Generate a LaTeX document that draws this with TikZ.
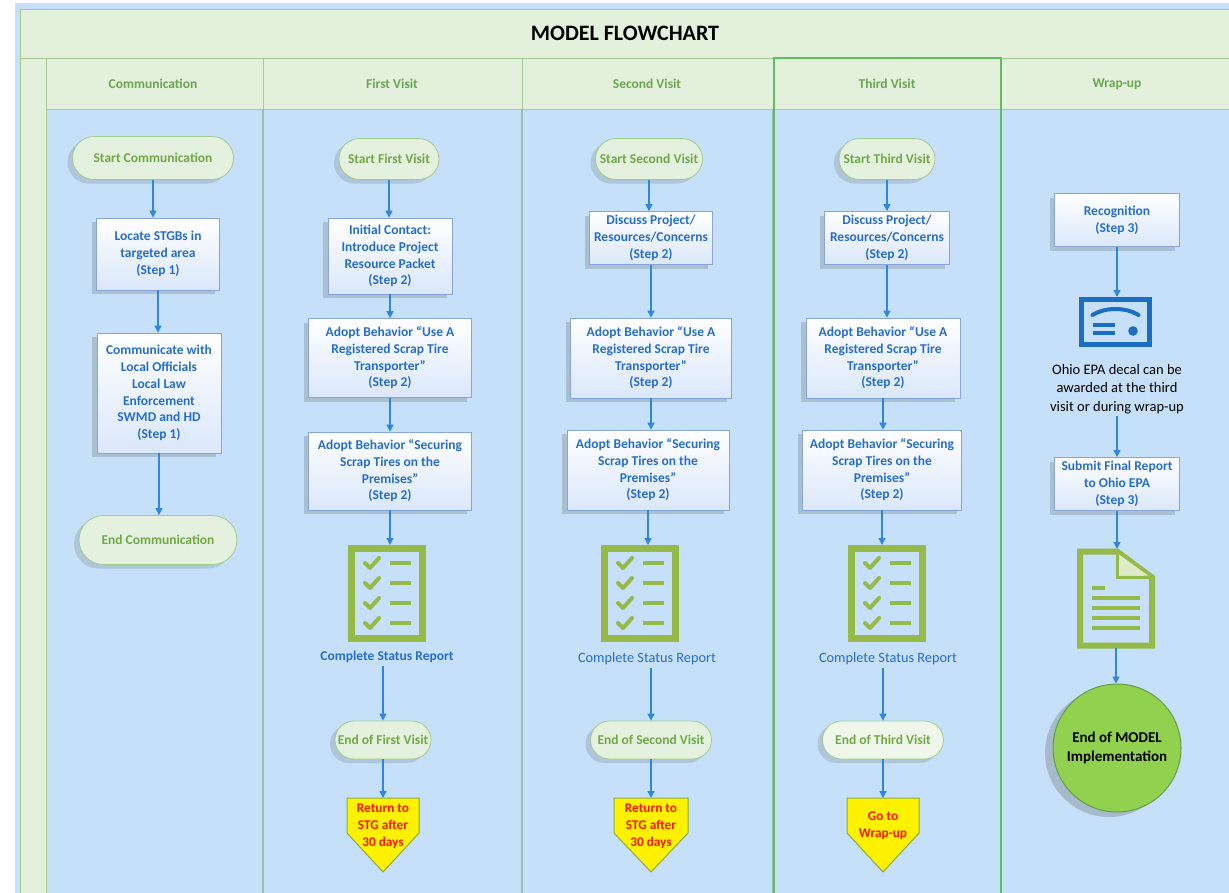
\documentclass[tikz,border=0pt]{standalone}
\usepackage{fontspec}
\setmainfont{Carlito}
\usetikzlibrary{arrows.meta,shadows,calc,shapes.misc}
\definecolor{bgblue}{RGB}{197,224,248}
\definecolor{hdrgreen}{RGB}{226,240,220}
\definecolor{framegreen}{RGB}{165,205,145}
\definecolor{divcol}{RGB}{150,190,178}
\definecolor{thirdgreen}{RGB}{95,190,95}
\definecolor{arrowblue}{RGB}{45,135,225}
\definecolor{boxtext}{RGB}{40,110,200}
\definecolor{boxborder}{RGB}{135,165,215}
\definecolor{boxblue}{RGB}{218,231,250}
\definecolor{stadfill}{RGB}{228,241,222}
\definecolor{stadborder}{RGB}{160,205,140}
\definecolor{stadtext}{RGB}{112,170,72}
\definecolor{iconolive}{RGB}{150,186,72}
\definecolor{certblue}{RGB}{28,110,195}
\definecolor{pentborder}{RGB}{140,170,60}
\definecolor{pentred}{RGB}{250,25,0}
\definecolor{endgreen}{RGB}{146,208,80}
\definecolor{endborder}{RGB}{95,160,70}
\definecolor{lanetext}{RGB}{110,165,82}
\begin{document}
\begin{tikzpicture}[x=1pt,y=-1pt,
  stepbox/.style={draw=boxborder, line width=0.8pt, top color=white, bottom color=boxblue,
    align=center, inner sep=2pt, text=boxtext,
    font=\bfseries\fontsize{13.5}{16.7}\selectfont,
    drop shadow={shadow xshift=-5pt, shadow yshift=-4pt, opacity=0.22, fill=black!70}},
  stad/.style={rounded rectangle, draw=stadborder, line width=0.8pt, fill=stadfill,
    text=stadtext, font=\bfseries\fontsize{13.5}{15}\selectfont, inner sep=2pt,
    drop shadow={shadow xshift=-5pt, shadow yshift=-4pt, opacity=0.18, fill=black!70}},
  lanelabel/.style={text=lanetext, font=\bfseries\fontsize{13.5}{15}\selectfont},
  status/.style={text=boxtext, font=\fontsize{14.3}{16}\selectfont, inner sep=3pt},
  flow/.style={draw=arrowblue, line width=1.3pt, -{Triangle[length=7pt,width=7pt]}},
  holder/.style={inner sep=0pt, outer sep=0pt},
  penttext/.style={text=pentred, align=center, font=\bfseries\fontsize{13.3}{17}\selectfont},
  checklist/.pic={
    \draw[iconolive, line width=7pt] (-35.5,-45) rectangle (35.5,45);
    \foreach \dy in {-30.5,-10.5,9.5,29.5}{
      \draw[iconolive, line width=4pt, line cap=round, line join=round]
        (-22,\dy) -- (-17,\dy+5) -- (-8,\dy-5);
      \draw[iconolive, line width=4.5pt] (3,\dy) -- (24,\dy);
    }
  },
  docicon/.pic={
    \draw[iconolive, line width=6pt, line join=miter] (-36,-47) -- (1,-47) -- (36,-21) -- (36,47) -- (-36,47) -- cycle;
    \fill[white!70!iconolive] (3,-44) -- (3,-23) -- (32,-23) -- cycle;
    \draw[iconolive, line width=3pt] (1,-47) -- (1,-21) -- (36,-21);
    \draw[iconolive, line width=4pt] (-24,-10.5) -- (-11,-10.5);
    \foreach \dy in {-0.5,9.5,19.5,29.5}{\draw[iconolive, line width=4pt] (-24,\dy) -- (24,\dy);}
  },
  certicon/.pic={
    \draw[certblue, line width=5pt] (-34,-22.5) rectangle (34,22.5);
    \draw[certblue, line width=4pt, line cap=round] (-23,-7) .. controls (-10,-15) and (10,-15) .. (23,-7);
    \draw[certblue, line width=3.5pt] (-23,3) -- (-1,3);
    \draw[certblue, line width=3.5pt] (-23,11) -- (-1,11);
    \fill[certblue] (17.5,9) circle (4.8);
  }
]
\useasboundingbox (0,0) rectangle (1229,892);
% backgrounds
\fill[white] (0,0) rectangle (1229,892);
\fill[bgblue] (15,3) rectangle (1240,900);
\draw[framegreen, line width=1pt, fill=hdrgreen] (20,9) rectangle (1240,58);
\draw[framegreen, line width=1pt, fill=hdrgreen] (20,58) rectangle (46,900);
\draw[framegreen, line width=1pt, fill=hdrgreen] (46,58) rectangle (1240,109);
\foreach \xx in {263,522,773,1001}{
  \draw[framegreen, line width=1pt] (\xx,58) -- (\xx,109);
  \draw[divcol, line width=1.2pt] (\xx,109) -- (\xx,900);
}
\draw[thirdgreen, line width=2.5pt] (774,58) rectangle (1001,900);

% titles
\node[font=\bfseries\fontsize{22}{24}\selectfont] (title) at (625,33) {MODEL FLOWCHART};
\node[lanelabel] (l1) at (153,84) {Communication};
\node[lanelabel] (l2) at (392,84) {First Visit};
\node[lanelabel] (l3) at (647,84) {Second Visit};
\node[lanelabel] (l4) at (887,84) {Third Visit};
\node[lanelabel] (l5) at (1117,84) {Wrap-up};

% Communication lane
\node[stad, minimum width=165, minimum height=43] (sc) at (153,158) {Start Communication};
\node[stepbox, minimum width=123, minimum height=72] (loc) at (158,254) {Locate STGBs in\\targeted area\\(Step 1)};
\node[stepbox, minimum width=124, minimum height=120] (comm) at (159,393) {Communicate with\\Local Officials\\Local Law\\Enforcement\\SWMD and HD\\(Step 1)};
\node[stad, minimum width=162, minimum height=49] (ec) at (158,540) {End Communication};
\draw[flow] (sc.south) -- (sc.south |- loc.north);
\draw[flow] (loc.south) -- (loc.south |- comm.north);
\draw[flow] (comm.south) -- (comm.south |- ec.north);

% First visit
\node[stad, minimum width=104, minimum height=41] (s1) at (389,159) {Start First Visit};
\node[stepbox, minimum width=124, minimum height=76] (i1) at (390,256) {Initial Contact:\\Introduce Project\\Resource Packet\\(Step 2)};
\node[stepbox, minimum width=163, minimum height=79] (a1) at (390,358) {Adopt Behavior “Use A\\Registered Scrap Tire\\Transporter”\\(Step 2)};
\node[stepbox, minimum width=163, minimum height=78] (b1) at (390,471) {Adopt Behavior “Securing\\Scrap Tires on the\\Premises”\\(Step 2)};
\node[holder, minimum width=78, minimum height=97] (k1) at (387,593.5) {};
\pic at (k1.center) {checklist};
\node[status, font=\bfseries\fontsize{13.5}{16}\selectfont] (c1) at (387,657) {Complete Status Report};
\node[stad, minimum width=100, minimum height=38] (e1) at (383,740) {End of First Visit};
\node[holder, minimum width=72, minimum height=35] (p1) at (383,815.5) {};
\draw[flow] (s1.south) -- (s1.south |- i1.north);
\draw[flow] (i1.south) -- (i1.south |- a1.north);
\draw[flow] (a1.south) -- (a1.south |- b1.north);
\draw[flow] (b1.south) -- (b1.south |- k1.north);
\draw[flow] (e1.north |- c1.south) -- (e1.north);
\draw[flow] (e1.south) -- (e1.south |- p1.north);

% Second visit
\node[stad, minimum width=111, minimum height=41] (s2) at (649,159) {Start Second Visit};
\node[stepbox, minimum width=123, minimum height=53] (d2) at (651,238) {Discuss Project/\\Resources/Concerns\\(Step 2)};
\node[stepbox, minimum width=161, minimum height=80] (a2) at (651,358) {Adopt Behavior “Use A\\Registered Scrap Tire\\Transporter”\\(Step 2)};
\node[stepbox, minimum width=162, minimum height=80] (b2) at (648,470) {Adopt Behavior “Securing\\Scrap Tires on the\\Premises”\\(Step 2)};
\node[holder, minimum width=78, minimum height=97] (k2) at (640,593.5) {};
\pic at (k2.center) {checklist};
\node[status] (c2) at (647,659) {Complete Status Report};
\node[stad, minimum width=125, minimum height=38] (e2) at (651,740) {End of Second Visit};
\node[holder, minimum width=74, minimum height=35] (p2) at (651,815.5) {};
\draw[flow] (s2.south) -- (s2.south |- d2.north);
\draw[flow] (d2.south) -- (d2.south |- a2.north);
\draw[flow] (a2.south) -- (a2.south |- b2.north);
\draw[flow] (b2.south) -- (b2.south |- k2.north);
\draw[flow] (e2.north |- c2.south) -- (e2.north);
\draw[flow] (e2.south) -- (e2.south |- p2.north);

% Third visit
\node[stad, minimum width=100, minimum height=41] (s3) at (887,159) {Start Third Visit};
\node[stepbox, minimum width=125, minimum height=53] (d3) at (887,238) {Discuss Project/\\Resources/Concerns\\(Step 2)};
\node[stepbox, minimum width=154, minimum height=80] (a3) at (883,358) {Adopt Behavior “Use A\\Registered Scrap Tire\\Transporter”\\(Step 2)};
\node[stepbox, minimum width=159, minimum height=80] (b3) at (882,470) {Adopt Behavior “Securing\\Scrap Tires on the\\Premises”\\(Step 2)};
\node[holder, minimum width=78, minimum height=97] (k3) at (887,593.5) {};
\pic at (k3.center) {checklist};
\node[status] (c3) at (888,659) {Complete Status Report};
\node[stad, minimum width=125, minimum height=38, fill=stadfill!60!white] (e3) at (883,740) {End of Third Visit};
\node[holder, minimum width=72, minimum height=35] (p3) at (883,815.5) {};
\draw[flow] (s3.south) -- (s3.south |- d3.north);
\draw[flow] (d3.south) -- (d3.south |- a3.north);
\draw[flow] (a3.south) -- (a3.south |- b3.north);
\draw[flow] (b3.south) -- (b3.south |- k3.north);
\draw[flow] (e3.north |- c3.south) -- (e3.north);
\draw[flow] (e3.south) -- (e3.south |- p3.north);

% pentagons
\foreach \p in {p1,p2,p3}{
  \draw[pentborder, line width=1pt, fill=yellow] (\p.north west) -- (\p.north east) -- (\p.south east)
    -- ($(\p.south)+(0,39)$) -- (\p.south west) -- cycle;
}
\node[penttext] (t1) at (383,826) {Return to\\STG after\\30 days};
\node[penttext] (t2) at (651,826) {Return to\\STG after\\30 days};
\node[penttext] (t3) at (883,825.5) {Go to\\Wrap-up};

% Wrap-up
\node[stepbox, minimum width=125, minimum height=53] (rc) at (1117,220) {Recognition\\(Step 3)};
\node[holder, minimum width=73, minimum height=50] (ct) at (1115.5,322) {};
\pic at (ct.center) {certicon};
\node[align=center, font=\fontsize{14.5}{18.5}\selectfont, inner sep=2pt] (dc) at (1117,389) {Ohio EPA decal can be\\awarded at the third\\visit or during wrap-up};
\node[stepbox, minimum width=125, minimum height=53] (sf) at (1117,484) {Submit Final Report\\to Ohio EPA\\(Step 3)};
\node[holder, minimum width=78, minimum height=99] (dci) at (1116,598.5) {};
\pic at (dci.center) {docicon};
\node[circle, draw=endborder, line width=1pt, fill=endgreen, minimum size=128, align=center,
  font=\bfseries\fontsize{15}{18.5}\selectfont,
  drop shadow={shadow xshift=-8pt, shadow yshift=-5pt, opacity=0.25, fill=black!70}] (em) at (1117,748) {End of MODEL\\Implementation};
\draw[flow] (rc.south) -- (rc.south |- ct.north);
\draw[flow] (dc.south) -- (dc.south |- sf.north);
\draw[flow] (sf.south) -- (sf.south |- dci.north);
\draw[flow] (dci.south) -- (dci.south |- em.north);
\end{tikzpicture}
\end{document}
